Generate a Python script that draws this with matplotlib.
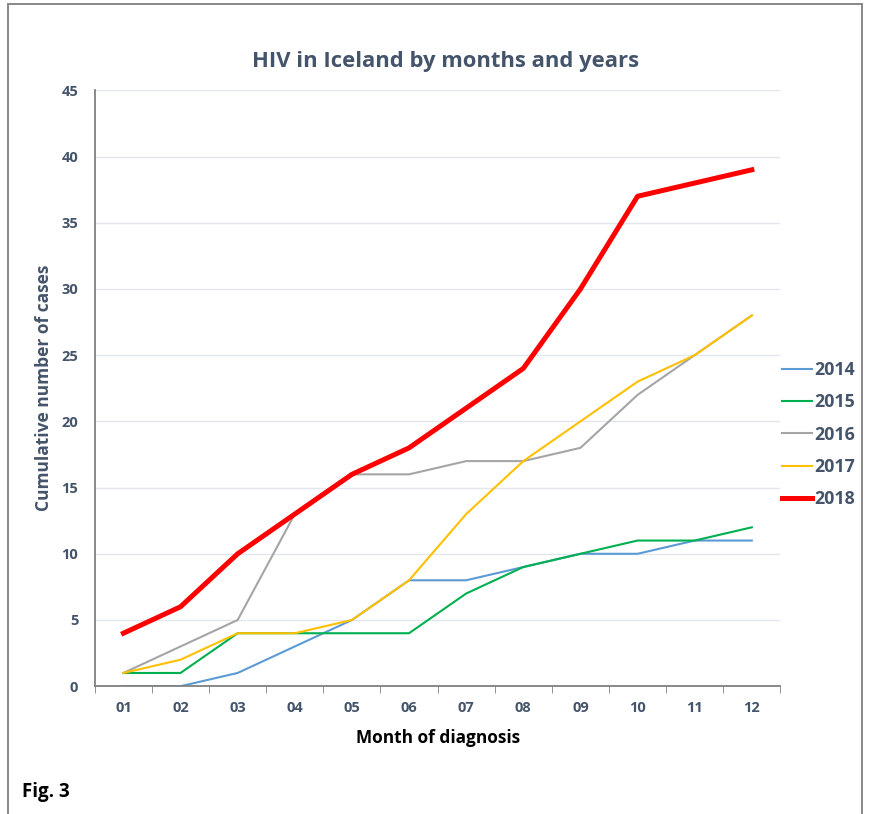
import matplotlib
matplotlib.use("Agg")
from matplotlib import pyplot as plt
from matplotlib.patches import Rectangle
from matplotlib.ticker import FixedLocator

plt.rcParams['font.family'] = ['Open Sans', 'DejaVu Sans']

# cumulative HIV diagnoses per month
months = ["01", "02", "03", "04", "05", "06", "07", "08", "09", "10", "11", "12"]
cases_2014 = [0, 0, 1, 3, 5, 8, 8, 9, 10, 10, 11, 11]
cases_2015 = [1, 1, 4, 4, 4, 4, 7, 9, 10, 11, 11, 12]
cases_2016 = [1, 3, 5, 13, 16, 16, 17, 17, 18, 22, 25, 28]
cases_2017 = [1, 2, 4, 4, 5, 8, 13, 17, 20, 23, 25, 28]
cases_2018 = [4, 6, 10, 13, 16, 18, 21, 24, 30, 37, 38, 39]
years = ["2014", "2015", "2016", "2017", "2018"]

slate = "#44546A"
colors = ["#5B9BD5", "#00B050", "#A5A5A5", "#FFC000", "#FF0000"]
widths = [1.5, 1.5, 1.5, 1.5, 3.6]

fig = plt.figure(figsize=(8.7, 8.14), dpi=100)
ax = fig.add_axes([0.109, 0.157, 0.788, 0.732])

x = list(range(1, len(months) + 1))
series = [cases_2014, cases_2015, cases_2016, cases_2017, cases_2018]
for yr, vals, c, w in zip(years, series, colors, widths):
    ax.plot(x, vals, color=c, lw=w, label=yr, solid_joinstyle="round")

ax.set_xlim(0.5, 12.5)
ax.set_ylim(0, 45)
ax.set_yticks(range(0, 46, 5))
ax.set_xticks(x)
ax.set_xticklabels(months)
ax.xaxis.set_minor_locator(FixedLocator([i + 0.5 for i in range(0, 13)]))
ax.tick_params(axis="x", which="major", length=0, pad=11)
ax.tick_params(axis="x", which="minor", length=5, color="#808080", direction="out")
ax.tick_params(axis="y", length=0, pad=12)
for lab in ax.get_xticklabels() + ax.get_yticklabels():
    lab.set_fontweight("bold")
    lab.set_color(slate)
    lab.set_fontsize(10.5)

ax.grid(axis="y", color="#E3E6EC", lw=1)
ax.set_axisbelow(True)
for s in ["top", "right"]:
    ax.spines[s].set_visible(False)
ax.spines["left"].set_color("#808080")
ax.spines["bottom"].set_color("#808080")
ax.spines["left"].set_linewidth(1.3)
ax.spines["bottom"].set_linewidth(1.3)

ax.set_title("HIV in Iceland by months and years", fontsize=15.8, fontweight="bold",
             color=slate, pad=17, x=0.512)
ax.set_xlabel("Month of diagnosis", fontsize=12.4, fontweight="bold", color="black", labelpad=10)
ax.set_ylabel("Cumulative number of cases", fontsize=12.5, fontweight="bold", color=slate, labelpad=6)

leg = ax.legend(loc="center left", bbox_to_anchor=(0.899, 0.466), bbox_transform=fig.transFigure,
                frameon=False, fontsize=12.8, handlelength=1.7, handletextpad=0.1,
                labelspacing=0.8, borderaxespad=0, borderpad=0)
for t in leg.get_texts():
    t.set_fontweight("bold")
    t.set_color(slate)

fig.text(0.025, 0.021, "Fig. 3", fontsize=13.5, fontweight="bold", color="black")
fig.add_artist(Rectangle((0.009, -0.05), 0.982, 1.045, transform=fig.transFigure,
                         fill=False, edgecolor="#7F7F7F", lw=1.3))

fig.savefig("out.png", dpi=100)
